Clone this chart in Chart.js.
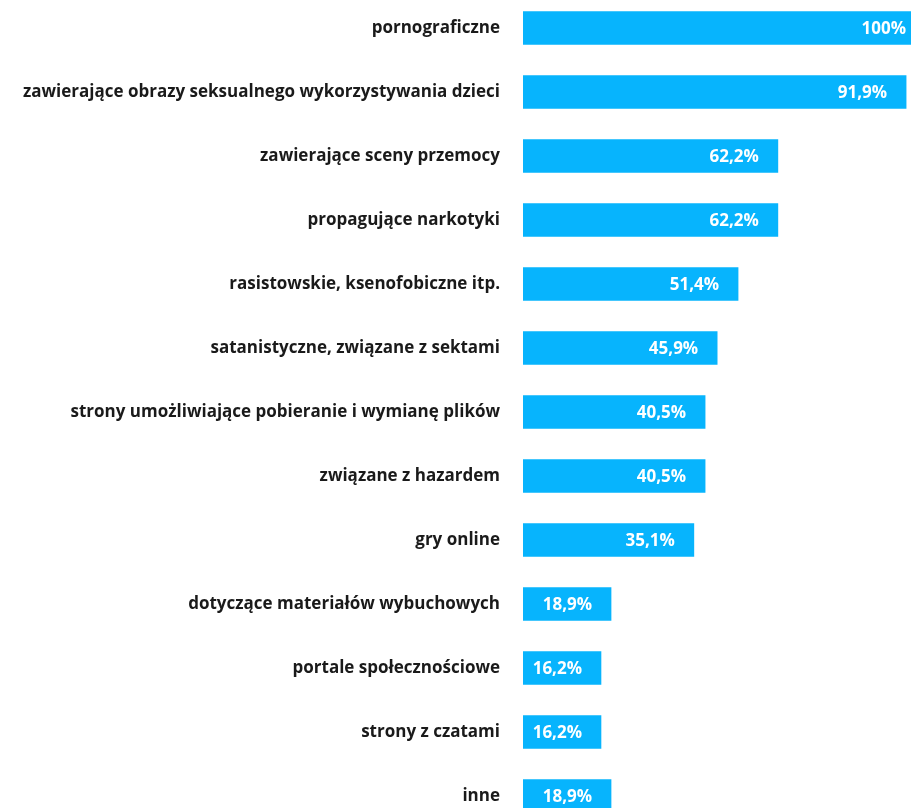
<!DOCTYPE html>
<html>
<head>
<meta charset="utf-8">
<script src="https://cdn.jsdelivr.net/npm/chart.js@4.4.1/dist/chart.umd.min.js"></script>
<style>
  html, body { margin: 0; padding: 0; background: #fff; width: 911px; height: 808px; overflow: hidden; }
  #wrap { position: absolute; left: 0; top: -4px; width: 930px; height: 840px; }
</style>
</head>
<body>
<div id="wrap"><canvas id="chart"></canvas></div>
<script>
// categories (top to bottom)
const categories = [
  'pornograficzne',
  'zawierające obrazy seksualnego wykorzystywania dzieci',
  'zawierające sceny przemocy',
  'propagujące narkotyki',
  'rasistowskie, ksenofobiczne itp.',
  'satanistyczne, związane z sektami',
  'strony umożliwiające pobieranie i wymianę plików',
  'związane z hazardem',
  'gry online',
  'dotyczące materiałów wybuchowych',
  'portale społecznościowe',
  'strony z czatami',
  'inne'
];

// printed values
const valueLabels = ['100%', '91,9%', '62,2%', '62,2%', '51,4%', '45,9%', '40,5%', '40,5%', '35,1%', '18,9%', '16,2%', '16,2%', '18,9%'];

// bar lengths as drawn in the picture (share of the 100% bar)
const barLengths = [100, 95.3, 63.4, 63.4, 53.5, 48.3, 45.3, 45.3, 42.5, 21.9, 19.4, 19.4, 21.9];

const FONT = '"Open Sans", "Noto Sans", sans-serif';

const valueLabelPlugin = {
  id: 'valueLabels',
  afterDatasetsDraw(chart) {
    const ctx = chart.ctx;
    const meta = chart.getDatasetMeta(0);
    ctx.save();
    ctx.fillStyle = '#ffffff';
    ctx.font = 'bold 17px ' + FONT;
    ctx.textAlign = 'right';
    ctx.textBaseline = 'middle';
    meta.data.forEach((bar, i) => {
      ctx.fillText(valueLabels[i], bar.x - 19, bar.y + 1);
    });
    ctx.restore();
  }
};

new Chart(document.getElementById('chart'), {
  type: 'bar',
  data: {
    labels: categories,
    datasets: [{
      data: barLengths,
      backgroundColor: '#07b4fd',
      barThickness: 33
    }]
  },
  options: {
    indexAxis: 'y',
    responsive: true,
    maintainAspectRatio: false,
    animation: false,
    layout: { padding: { top: 0, right: 5, bottom: 8, left: 0 } },
    plugins: {
      legend: { display: false },
      tooltip: { enabled: false }
    },
    scales: {
      x: {
        display: false,
        min: 0,
        max: 100
      },
      y: {
        afterFit(scale) {
          scale.width = 523;
          scale.paddingTop = 0;
          scale.paddingBottom = 0;
        },
        grid: { display: false, drawTicks: false },
        border: { display: false },
        ticks: {
          padding: 23,
          color: '#1a1a1a',
          font: { family: FONT, size: 17, weight: 'bold' }
        }
      }
    }
  },
  plugins: [valueLabelPlugin]
});
</script>
</body>
</html>
